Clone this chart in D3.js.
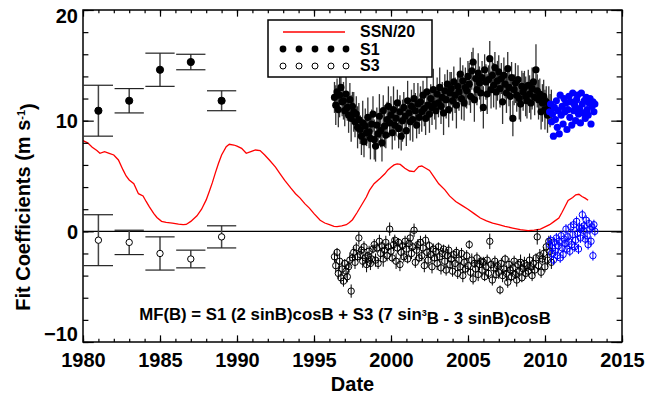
<!DOCTYPE html>
<html>
<head>
<meta charset="utf-8">
<script src="https://cdn.jsdelivr.net/npm/d3@7"></script>
<style>
  body { margin: 0; background: #fff; }
  svg text { font-family: "Liberation Sans", Arial, Helvetica, sans-serif; font-weight: bold; }
</style>
</head>
<body>
<div id="chart"></div>
<script>
// tick labels
const xTicks = [1980, 1985, 1990, 1995, 2000, 2005, 2010, 2015];
const yTicks = [-10, 0, 10, 20];

// early fits, two-year bins
const earlyYears = [1981, 1983, 1985, 1987, 1989];
const earlyS1 = [10.9, 11.8, 14.6, 15.3, 11.8];
const earlyS1Err = [2.3, 1.1, 1.5, 0.7, 0.9];
const earlyS3 = [-0.8, -1.0, -2.0, -2.5, -0.5];
const earlyS3Err = [2.3, 1.1, 1.5, 0.8, 1.0];

// monthly fits, 1996.33 .. 2010.5
const monthStart = 1996.33;
const s1 = [
  12.1, 11.4, 12.6, 11.0, 12.3, 13.0, 11.7,
  11.8, 10.9, 12.4, 11.2, 10.5, 11.9, 10.2, 11.3, 10.8, 9.9, 10.6, 9.4,
  10.1, 9.2, 8.6, 9.8, 8.1, 9.5, 8.9, 10.3, 9.0, 8.4, 9.7, 10.6,
  8.3, 7.7, 9.6, 8.8, 10.4, 9.1, 8.0, 10.9, 9.5, 8.7, 10.1, 11.3,
  9.8, 10.5, 8.9, 11.0, 9.6, 10.2, 11.6, 9.3, 10.8, 8.6, 10.0, 11.2,
  10.4, 9.1, 11.8, 10.7, 9.9, 11.3, 10.1, 12.0, 10.9, 9.6, 11.5, 10.3,
  11.7, 10.8, 12.3, 11.1, 10.2, 12.6, 11.4, 10.6, 12.0, 11.2, 12.8, 11.5,
  10.9, 12.4, 11.6, 13.0, 11.3, 12.1, 10.7, 12.7, 11.9, 13.3, 11.0, 12.5,
  12.9, 11.8, 13.5, 12.3, 11.4, 13.1, 12.6, 14.2, 12.0, 13.6, 11.6, 13.0,
  12.7, 14.0, 13.3, 12.2, 14.5, 15.3, 11.9, 13.8, 12.8, 14.3, 13.4, 12.5,
  13.9, 11.2, 14.6, 13.5, 12.4, 13.7, 15.6, 12.8, 14.1, 13.2, 14.8, 12.6,
  13.6, 14.4, 12.9, 13.8, 11.7, 14.1, 13.3, 12.5, 14.7, 13.0, 12.2, 13.9,
  10.2, 12.8, 13.4, 12.3, 13.7, 12.0, 11.5, 13.1, 12.6, 13.0, 12.2, 11.8,
  13.2, 12.4, 11.6, 12.9, 13.5, 12.1, 14.6, 12.7, 11.9, 12.4, 10.8, 11.6,
  12.2, 11.0, 11.7, 10.5, 11.4, 10.9, 11.2
];
const s1Err = [
  1.4, 1.8, 1.2, 1.6, 2.0, 1.5, 1.3,
  1.7, 1.4, 1.9, 1.2, 1.6, 1.5, 2.1, 1.3, 1.8, 1.4, 1.6, 1.9,
  1.5, 1.3, 1.7, 2.0, 1.4, 1.6, 1.2, 1.8, 1.5, 1.9, 1.3, 1.6,
  1.8, 1.4, 1.6, 1.3, 2.0, 1.5, 1.7, 1.4, 1.9, 1.2, 1.6, 1.8,
  1.3, 1.7, 1.5, 2.1, 1.4, 1.6, 1.2, 1.8, 1.5, 1.3, 1.9, 1.4,
  1.6, 1.4, 1.8, 1.3, 1.7, 1.5, 2.0, 1.4, 1.6, 1.2, 1.9, 1.5,
  1.4, 1.8, 1.3, 1.6, 1.5, 2.0, 1.4, 1.7, 1.3, 1.6, 1.9, 1.4,
  1.7, 1.5, 1.3, 1.8, 1.6, 1.4, 2.0, 1.5, 1.7, 1.3, 1.6, 1.9,
  1.5, 1.8, 1.4, 1.6, 2.1, 1.3, 1.7, 1.5, 1.9, 1.4, 1.6, 1.8,
  1.6, 1.4, 1.9, 1.5, 1.7, 1.3, 2.0, 1.6, 1.4, 1.8, 1.5, 1.7,
  1.5, 1.9, 1.4, 1.6, 1.8, 1.3, 1.6, 1.7, 1.5, 2.0, 1.4, 1.6,
  1.8, 1.5, 1.7, 1.4, 2.0, 1.6, 1.3, 1.8, 1.5, 1.7, 1.9, 1.4,
  1.6, 1.4, 1.8, 1.5, 1.3, 1.9, 1.6, 1.4, 1.7, 1.5, 1.8, 1.6,
  1.4, 1.7, 1.5, 1.9, 1.3, 1.6, 2.3, 1.5, 1.8, 1.4, 1.6, 1.7,
  1.5, 1.8, 1.4, 1.6, 1.7, 1.5, 1.6
];
const s3 = [
  -2.3, -3.1, -1.9, -3.8, -2.7, -4.2, -3.4,
  -4.5, -2.9, -3.6, -4.1, -3.2, -2.6, -5.4, -2.4, -1.9, -2.8, -1.5, -2.3,
  -0.6, -2.1, -1.7, -2.7, -1.4, -2.4, -3.0, -2.2, -1.8, -2.9, -2.5, -1.6,
  -1.2, -2.6, -1.5, -2.9, -0.9, -2.0, -1.3, -2.5, -1.7, -1.0, -2.2, -1.4,
  0.2, -1.8, -2.4, -1.2, -0.8, -2.7, -1.5, -1.0, -3.0, -1.9, -1.3, -2.3,
  -0.9, -1.6, -2.5, -1.1, -0.6, -2.0, -1.4, 0.1, -2.8, -1.7, -1.2, -2.4,
  -1.0, -2.2, -1.5, -3.1, -0.8, -1.9, -2.6, -1.3, -2.1, -3.2, -1.6, -2.4,
  -1.8, -2.9, -1.4, -2.3, -3.3, -2.0, -1.6, -2.7, -3.5, -2.2, -1.7, -3.0,
  -2.5, -3.6, -2.1, -2.9, -1.9, -3.8, -2.6, -3.2, -2.0, -4.0, -2.8, -3.4,
  -2.2, -3.1, -1.2, -3.7, -2.6, -4.3, -2.9, -3.4, -2.4, -3.9, -3.0, -2.7,
  -3.5, -2.8, -4.1, -3.2, -2.6, -3.8, -0.9, -3.0, -4.4, -3.3, -2.7, -3.9,
  -3.1, -3.7, -5.3, -2.9, -4.0, -3.4, -2.5, -3.8, -4.6, -3.0, -3.5, -4.1,
  -3.3, -2.7, -3.9, -4.4, -3.0, -3.6, -2.8, -4.2, -3.4, -2.9, -3.8, -3.1,
  -3.6, -2.6, -3.2, -4.0, -2.9, -3.5, -2.4, -0.5, -3.1, -2.2, -3.7, -2.5,
  -2.0, -3.2, -1.4, -2.6, -0.9, -1.8, -2.8
];
const s3Err = [
  0.5, 0.6, 0.4, 0.5, 0.7, 0.5, 0.6,
  0.5, 0.4, 0.6, 0.5, 0.5, 0.7, 0.6, 0.4, 0.5, 0.6, 0.5, 0.4,
  0.6, 0.5, 0.4, 0.6, 0.5, 0.5, 0.7, 0.4, 0.5, 0.6, 0.5, 0.4,
  0.5, 0.6, 0.4, 0.5, 0.6, 0.5, 0.4, 0.7, 0.5, 0.6, 0.5, 0.4,
  0.6, 0.5, 0.4, 0.6, 0.5, 0.7, 0.5, 0.4, 0.6, 0.5, 0.4, 0.5,
  0.5, 0.6, 0.4, 0.5, 0.6, 0.5, 0.4, 0.6, 0.5, 0.7, 0.5, 0.4,
  0.6, 0.5, 0.4, 0.6, 0.5, 0.5, 0.7, 0.4, 0.5, 0.6, 0.5, 0.4,
  0.5, 0.6, 0.4, 0.5, 0.6, 0.5, 0.4, 0.7, 0.5, 0.6, 0.5, 0.4,
  0.6, 0.5, 0.4, 0.6, 0.5, 0.5, 0.7, 0.4, 0.5, 0.6, 0.5, 0.4,
  0.5, 0.6, 0.4, 0.5, 0.6, 0.5, 0.4, 0.7, 0.5, 0.6, 0.5, 0.4,
  0.6, 0.5, 0.4, 0.6, 0.5, 0.5, 0.7, 0.4, 0.5, 0.6, 0.5, 0.4,
  0.5, 0.6, 0.4, 0.5, 0.6, 0.5, 0.4, 0.7, 0.5, 0.6, 0.5, 0.4,
  0.6, 0.5, 0.4, 0.6, 0.5, 0.5, 0.7, 0.4, 0.5, 0.6, 0.5, 0.4,
  0.5, 0.6, 0.4, 0.5, 0.6, 0.5, 0.4, 0.7, 0.5, 0.6, 0.5, 0.4,
  0.6, 0.5, 0.4, 0.6, 0.5, 0.5, 0.6
];

// recent fits (blue), 1/16 yr spacing from 2010.3
const recentStart = 2010.3;
const recentStep = 1 / 16;
const recentS1 = [
  10.8, 11.5, 9.9, 10.6, 8.6, 11.2, 10.1, 11.8, 9.4, 10.9, 8.8, 12.3,
  10.5, 11.3, 9.7, 12.0, 10.8, 11.6, 9.2, 11.0, 12.2, 10.3, 11.7, 9.6,
  12.5, 10.9, 11.4, 10.0, 11.9, 12.3, 10.6, 11.1, 9.8, 12.5, 11.5, 10.7,
  11.8, 10.2, 12.1, 11.0, 10.5, 11.6, 12.0, 9.7, 11.3, 11.7, 10.8, 11.5
];
const recentS3 = [
  -1.2, -0.8, -2.0, -1.5, -2.6, -1.0, -1.8, -0.6, -2.2, -1.3, -0.9, -2.4,
  -0.4, -1.5, -2.1, -0.7, -1.1, 0.2, -1.6, -0.5, -0.9, -1.8, 0.4, -1.2,
  -0.3, 0.6, -1.4, -0.8, 0.9, -0.2, -1.6, 0.3, -0.6, 0.3, 1.5, 0.1,
  0.5, -0.7, 1.0, -0.4, -1.2, 0.7, 0.2, -0.9, 0.4, -2.2, 0.6, 0.0
];
const recentS3Err = 0.45;

// smoothed sunspot number / 20
const ssnYears = [
  1980.0, 1980.3, 1980.6, 1980.9, 1981.1, 1981.4, 1981.7, 1982.0, 1982.3, 1982.6,
  1982.8, 1983.0, 1983.3, 1983.6, 1983.9, 1984.1, 1984.3, 1984.6, 1984.8, 1985.1,
  1985.4, 1985.8, 1986.2, 1986.5, 1986.7, 1987.0, 1987.4, 1987.7, 1988.0, 1988.2,
  1988.4, 1988.6, 1988.8, 1989.0, 1989.3, 1989.5, 1989.8, 1990.0, 1990.3, 1990.6,
  1990.9, 1991.2, 1991.5, 1991.8, 1992.1, 1992.5, 1992.8, 1993.1, 1993.5, 1993.8,
  1994.1, 1994.4, 1994.7, 1995.0, 1995.4, 1995.7, 1996.0, 1996.3, 1996.5, 1996.8,
  1997.1, 1997.3, 1997.5, 1997.8, 1998.1, 1998.4, 1998.6, 1998.9, 1999.3, 1999.6,
  1999.8, 2000.0, 2000.2, 2000.4, 2000.6, 2000.9, 2001.2, 2001.5, 2001.8, 2002.0,
  2002.2, 2002.5, 2002.8, 2003.1, 2003.5, 2003.8, 2004.2, 2004.6, 2005.0, 2005.4,
  2005.8, 2006.2, 2006.6, 2007.0, 2007.4, 2007.9, 2008.4, 2008.9, 2009.3, 2009.7,
  2010.0, 2010.3, 2010.6, 2010.9, 2011.1, 2011.3, 2011.5, 2011.8, 2012.0, 2012.2,
  2012.4, 2012.6, 2012.8
];
const ssnValues = [
  8.2, 8.0, 7.6, 7.3, 7.05, 7.2, 7.05, 6.9, 6.45, 5.55,
  5.0, 4.64, 4.3, 3.4, 3.2, 2.7, 2.23, 1.6, 1.25, 0.9,
  0.8, 0.75, 0.65, 0.6, 0.62, 0.9, 1.4, 2.0, 2.84, 3.6,
  4.4, 5.3, 6.15, 6.9, 7.65, 7.87, 7.8, 7.7, 7.5, 7.05,
  7.2, 7.35, 7.3, 6.9, 6.45, 5.8, 5.2, 4.6, 3.9, 3.4,
  3.0, 2.5, 2.1, 1.6, 1.0, 0.75, 0.6, 0.45, 0.42, 0.5,
  0.6, 0.8, 1.05, 1.7, 2.4, 3.1, 3.7, 4.3, 4.8, 5.2,
  5.55, 5.8, 6.0, 6.1, 6.05, 5.7, 5.45, 5.4, 5.85, 5.9,
  5.75, 5.5, 4.9, 4.3, 3.75, 3.2, 2.7, 2.35, 2.0, 1.6,
  1.2, 0.95, 0.75, 0.6, 0.45, 0.3, 0.15, 0.07, 0.1, 0.2,
  0.4, 0.6, 0.9, 1.2, 1.7, 2.25, 2.8, 3.05, 3.3, 3.35,
  3.15, 3.0, 2.8
];

const W = 658, H = 394;
const padL = 83, padR = 622, padT = 10, padB = 342;

const x = d3.scaleLinear().domain([1980, 2015]).range([padL, padR]);
const y = d3.scaleLinear().domain([-10, 20]).range([padB, padT]);

const svg = d3.select("#chart").append("svg")
  .attr("width", W)
  .attr("height", H);

const monthly = s1.map((v, i) => ({
  t: monthStart + i / 12, s1: v, e1: s1Err[i], s3: s3[i], e3: s3Err[i]
}));
const recent = recentS1.map((v, i) => ({
  t: recentStart + i * recentStep, s1: v, s3: recentS3[i]
}));
const early = earlyYears.map((t, i) => ({
  t: t, s1: earlyS1[i], e1: earlyS1Err[i], s3: earlyS3[i], e3: earlyS3Err[i]
}));

// zero line
svg.append("line")
  .attr("x1", padL).attr("x2", padR)
  .attr("y1", y(0)).attr("y2", y(0))
  .attr("stroke", "#000").attr("stroke-width", 1.2);

// sunspot curve
const ssnLine = d3.line()
  .x(d => x(d[0]))
  .y(d => y(d[1]))
  .curve(d3.curveLinear);
svg.append("path")
  .datum(d3.zip(ssnYears, ssnValues))
  .attr("d", ssnLine)
  .attr("fill", "none")
  .attr("stroke", "#ff0000")
  .attr("stroke-width", 1.3);

// early binned points with wide caps
function drawEarly(key, errKey, filled) {
  let g = svg.append("g");
  let capHalf = 0.95;
  early.forEach(d => {
    g.append("line")
      .attr("x1", x(d.t)).attr("x2", x(d.t))
      .attr("y1", y(d[key] + d[errKey])).attr("y2", y(d[key] - d[errKey]))
      .attr("stroke", "#444").attr("stroke-width", 1.5);
    [d[key] + d[errKey], d[key] - d[errKey]].forEach(v => {
      g.append("line")
        .attr("x1", x(d.t - capHalf)).attr("x2", x(d.t + capHalf))
        .attr("y1", y(v)).attr("y2", y(v))
        .attr("stroke", "#222").attr("stroke-width", 1.2);
    });
    g.append("circle")
      .attr("cx", x(d.t)).attr("cy", y(d[key]))
      .attr("r", filled ? 3.6 : 3.2)
      .attr("fill", filled ? "#000" : "#fff")
      .attr("stroke", "#000").attr("stroke-width", 1);
  });
}
drawEarly("s1", "e1", true);
drawEarly("s3", "e3", false);

// monthly S1: error bars then dots
svg.append("g").selectAll("line")
  .data(monthly).enter().append("line")
  .attr("x1", d => x(d.t)).attr("x2", d => x(d.t))
  .attr("y1", d => y(d.s1 + d.e1)).attr("y2", d => y(d.s1 - d.e1))
  .attr("stroke", "#333").attr("stroke-width", 1.3);
svg.append("g").selectAll("circle")
  .data(monthly).enter().append("circle")
  .attr("cx", d => x(d.t)).attr("cy", d => y(d.s1))
  .attr("r", 3.6).attr("fill", "#000");

// monthly S3: open circles with short bars
svg.append("g").selectAll("line")
  .data(monthly).enter().append("line")
  .attr("x1", d => x(d.t)).attr("x2", d => x(d.t))
  .attr("y1", d => y(d.s3 + d.e3)).attr("y2", d => y(d.s3 - d.e3))
  .attr("stroke", "#000").attr("stroke-width", 1);
svg.append("g").selectAll("circle")
  .data(monthly).enter().append("circle")
  .attr("cx", d => x(d.t)).attr("cy", d => y(d.s3))
  .attr("r", 3.2).attr("fill", "none")
  .attr("stroke", "#000").attr("stroke-width", 1);

// recent fits in blue
svg.append("g").selectAll("circle")
  .data(recent).enter().append("circle")
  .attr("cx", d => x(d.t)).attr("cy", d => y(d.s1))
  .attr("r", 3.6).attr("fill", "#0000ff");
svg.append("g").selectAll("line")
  .data(recent).enter().append("line")
  .attr("x1", d => x(d.t)).attr("x2", d => x(d.t))
  .attr("y1", d => y(d.s3 + recentS3Err)).attr("y2", d => y(d.s3 - recentS3Err))
  .attr("stroke", "#0000ff").attr("stroke-width", 1);
svg.append("g").selectAll("circle")
  .data(recent).enter().append("circle")
  .attr("cx", d => x(d.t)).attr("cy", d => y(d.s3))
  .attr("r", 3.2).attr("fill", "none")
  .attr("stroke", "#0000ff").attr("stroke-width", 1);

// axes, ticks pointing inward on all four sides
const xMinor = d3.range(1980, 2016);
const yMinor = d3.range(-10, 21, 2);
const plotW = padR - padL, plotH = padB - padT;
const xMajLen = 0.02 * plotH, yMajLen = 0.02 * plotW;

function styleAxis(g) {
  g.select(".domain").remove();
  g.selectAll(".tick line").attr("stroke", "#000").attr("stroke-width", 1.2);
  g.selectAll("text").attr("fill", "#000").style("font-size", "20px");
}

svg.append("g").attr("transform", `translate(0,${padB})`)
  .call(d3.axisBottom(x).tickValues(xMinor).tickSize(-xMajLen / 2).tickFormat(""))
  .call(styleAxis);
svg.append("g").attr("transform", `translate(0,${padB})`)
  .call(d3.axisBottom(x).tickValues(xTicks).tickSize(-xMajLen).tickPadding(11).tickFormat(d3.format("d")))
  .call(styleAxis);
svg.append("g").attr("transform", `translate(0,${padT})`)
  .call(d3.axisTop(x).tickValues(xMinor).tickSize(-xMajLen / 2).tickFormat(""))
  .call(styleAxis);
svg.append("g").attr("transform", `translate(0,${padT})`)
  .call(d3.axisTop(x).tickValues(xTicks).tickSize(-xMajLen).tickFormat(""))
  .call(styleAxis);

svg.append("g").attr("transform", `translate(${padL},0)`)
  .call(d3.axisLeft(y).tickValues(yMinor).tickSize(-yMajLen / 2).tickFormat(""))
  .call(styleAxis);
const yAxisG = svg.append("g").attr("transform", `translate(${padL},0)`)
  .call(d3.axisLeft(y).tickValues(yTicks).tickSize(-yMajLen).tickPadding(5).tickFormat(d3.format("d")))
  .call(styleAxis);
// end labels sit inside the frame like the original
yAxisG.selectAll(".tick text")
  .attr("dy", d => d === 20 ? "0.6em" : d === -10 ? "-0.1em" : "0.36em");
svg.append("g").attr("transform", `translate(${padR},0)`)
  .call(d3.axisRight(y).tickValues(yMinor).tickSize(-yMajLen / 2).tickFormat(""))
  .call(styleAxis);
svg.append("g").attr("transform", `translate(${padR},0)`)
  .call(d3.axisRight(y).tickValues(yTicks).tickSize(-yMajLen).tickFormat(""))
  .call(styleAxis);

svg.append("rect")
  .attr("x", padL).attr("y", padT)
  .attr("width", plotW).attr("height", plotH)
  .attr("fill", "none").attr("stroke", "#000").attr("stroke-width", 1.5);

// axis titles
svg.append("text")
  .attr("x", (padL + padR) / 2).attr("y", 391)
  .attr("text-anchor", "middle")
  .style("font-size", "20px")
  .text("Date");

const yTitle = svg.append("text")
  .attr("transform", "translate(30,207) rotate(-90)")
  .attr("text-anchor", "middle")
  .style("font-size", "20px");
yTitle.append("tspan").text("Fit Coefficients (m s");
yTitle.append("tspan").attr("dy", "-0.5em").style("font-size", "11px").text("-1");
yTitle.append("tspan").attr("dy", "0.5em").text(")");

// fit formula
const formula = svg.append("text")
  .attr("x", 345).attr("y", 320)
  .attr("text-anchor", "middle")
  .style("font-size", "16.8px");
formula.append("tspan").text("MF(B) = S1 (2 sinB)cosB + S3 (7 sin");
formula.append("tspan").attr("dy", "-0.45em").style("font-size", "9px").text("3");
formula.append("tspan").attr("dy", "0.45em").text("B - 3 sinB)cosB");

// legend
const legend = svg.append("g");
legend.append("rect")
  .attr("x", 268).attr("y", 20).attr("width", 164).attr("height", 57)
  .attr("fill", "#fff").attr("stroke", "#000").attr("stroke-width", 1.5);
legend.append("line")
  .attr("x1", 283).attr("x2", 345).attr("y1", 32).attr("y2", 32)
  .attr("stroke", "#ff0000").attr("stroke-width", 1.3);
const legendDots = [283, 299, 315, 331, 346];
legend.selectAll("circle.f").data(legendDots).enter().append("circle")
  .attr("cx", d => d).attr("cy", 49).attr("r", 3.4).attr("fill", "#000");
legend.selectAll("circle.o").data(legendDots).enter().append("circle")
  .attr("cx", d => d).attr("cy", 66).attr("r", 3).attr("fill", "none")
  .attr("stroke", "#000").attr("stroke-width", 1);
[["SSN/20", 37], ["S1", 54.5], ["S3", 71]].forEach(([label, yy]) => {
  legend.append("text").attr("x", 360).attr("y", yy)
    .style("font-size", "16px").text(label);
});
</script>
</body>
</html>
